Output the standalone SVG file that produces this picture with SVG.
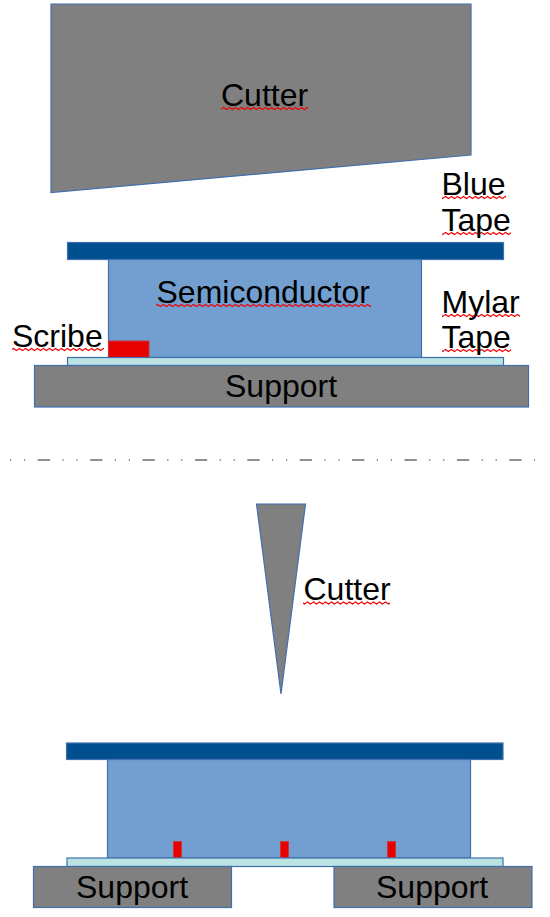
<svg xmlns="http://www.w3.org/2000/svg" width="550" height="917" viewBox="0 0 550 917">
<style>
text{font-family:"Liberation Sans",Arial,sans-serif;font-size:32px;fill:#000}
.s{stroke:#3f6fae;stroke-width:1.2}
.cut{fill:#808080}
.blue{fill:#004f8f}
.semi{fill:#729fcf}
.scribe{fill:#e60000;stroke:#c8383c;stroke-width:1}
.mylar{fill:#bbe3e3}
.sq{fill:url(#squiggle)}
.sq2{fill:url(#squiggle2)}
</style>
<defs>
<pattern id="squiggle" x="0" y="0" width="6" height="917" patternUnits="userSpaceOnUse">
<path fill="none" stroke="#f00000" stroke-width="1.200" d="M0 108.500l1.500-1 3 2 1.500-1M0 197.500l1.500-1 3 2 1.500-1M0 233.500l1.500-1 3 2 1.500-1M0 305.500l1.500-1 3 2 1.500-1M0 315.500l1.500-1 3 2 1.500-1M0 349.500l1.500-1 3 2 1.500-1M0 603l1.500-1 3 2 1.500-1"/>
</pattern>
<pattern id="squiggle2" x="0" y="0" width="6" height="917" patternUnits="userSpaceOnUse">
<path fill="none" stroke="#f00000" stroke-width="1.200" d="M0 350.500l1.500-1 3 2 1.500-1"/>
</pattern>
</defs>
<g id="connectors">
<path id="divider" d="M10 460H535" fill="none" stroke="#222" stroke-width="1.200" stroke-dasharray="1.200 12.800 1.200 12.500 12.300 12.400"/>
</g>
<g id="top-cutter">
<polygon class="cut s" points="51,4 471,4 471,155 51,192.500"/>
<rect class="sq" x="221" y="106" width="87" height="5"/>
<text x="221" y="106">Cutter</text>
</g>
<g id="top-blue-tape">
<rect class="blue s" x="67.500" y="242.500" width="436" height="17"/>
<rect class="sq" x="442" y="195" width="64" height="5"/>
<text x="441.500" y="195">Blue</text>
<rect class="sq" x="442" y="231" width="69" height="5"/>
<text x="441.500" y="231">Tape</text>
</g>
<g id="top-semiconductor">
<rect class="semi s" x="108.500" y="259.500" width="313" height="98"/>
<rect class="sq" x="156" y="303" width="215" height="5"/>
<text x="156.500" y="303">Semiconductor</text>
</g>
<g id="top-scribe">
<rect class="scribe" x="108.500" y="341" width="40.500" height="16.500"/>
<rect class="sq" x="12" y="347" width="92" height="5"/>
<text x="12" y="347">Scribe</text>
</g>
<g id="top-mylar-tape">
<rect class="mylar s" x="67.500" y="357.500" width="436" height="8"/>
<rect class="sq" x="442" y="313" width="78" height="5"/>
<text x="441.500" y="313">Mylar</text>
<rect class="sq2" x="442" y="348" width="69" height="5"/>
<text x="441.500" y="348">Tape</text>
</g>
<g id="top-support">
<rect class="cut s" x="34.500" y="365.500" width="494" height="41.500"/>
<text x="225" y="397">Support</text>
</g>
<g id="bottom-cutter">
<polygon class="cut s" points="256.500,504 305.500,504 281,694"/>
<rect class="sq" x="303" y="600" width="87" height="6"/>
<text x="303.500" y="600">Cutter</text>
</g>
<g id="bottom-blue-tape">
<rect class="blue s" x="66.500" y="743" width="436.500" height="16.500"/>
</g>
<g id="bottom-semiconductor">
<rect class="semi s" x="107.500" y="759.500" width="363" height="98.500"/>
</g>
<g id="bottom-scribes">
<rect class="scribe" x="173.500" y="841.500" width="8" height="16"/>
<rect class="scribe" x="280.500" y="841.500" width="8" height="16"/>
<rect class="scribe" x="387.500" y="841.500" width="8" height="16"/>
</g>
<g id="bottom-mylar-tape">
<rect class="mylar s" x="67" y="858" width="436" height="8.500"/>
</g>
<g id="bottom-support-left">
<rect class="cut s" x="33.500" y="866.500" width="198" height="41"/>
<text x="76" y="898">Support</text>
</g>
<g id="bottom-support-right">
<rect class="cut s" x="334" y="866.500" width="198" height="41"/>
<text x="376" y="898">Support</text>
</g>
</svg>
